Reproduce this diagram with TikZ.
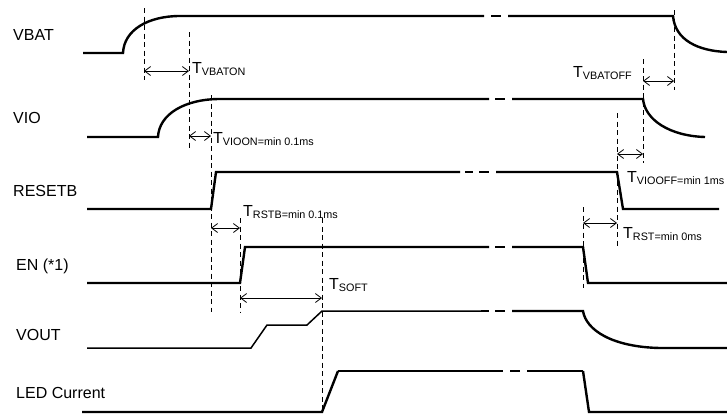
\documentclass[tikz,border=0pt]{standalone}
\usepackage{fontspec}
\setmainfont{Liberation Sans}
\usetikzlibrary{arrows.meta,positioning}

\newcommand{\tlabel}[1]{{\fontsize{16}{16}\selectfont T}\raisebox{-2pt}{\fontsize{10.8}{11}\selectfont #1}}

\begin{document}
\begin{tikzpicture}[x=1pt, y=-1pt,
    wave/.style={line width=2.4pt},
    thinwave/.style={line width=1.5pt},
    guide/.style={line width=0.9pt, dash pattern=on 5pt off 3.5pt},
    dim/.style={{Straight Barb[length=6pt,width=9pt]}-{Straight Barb[length=6pt,width=9pt]}, line width=0.8pt},
    siglabel/.style={anchor=base west, inner sep=0pt, font=\fontsize{16}{16}\selectfont},
    tlab/.style={anchor=base west, inner sep=0pt}]
    \useasboundingbox (0,0) rectangle (727,416);

    % signal names
    \node [siglabel] (vbat) at (13,40) {VBAT};
    \node [siglabel] (vio) at (13,123) {VIO};
    \node [siglabel] (resetb) at (13,196) {RESETB};
    \node [siglabel] (en) at (16,270) {EN (*1)};
    \node [siglabel] (vout) at (16,340) {VOUT};
    \node [siglabel] (led) at (16,398) {LED Current};

    % waveforms
    \draw [wave] (83,53) -- (123,53) .. controls (124,30) and (148,16) .. (180,16) -- (484,16);
    \draw [wave] (491,16) -- (501,16);
    \draw [wave] (508,16) -- (673,16) .. controls (675,40) and (698,51) .. (727,52);

    \draw [wave] (87,137) -- (158,137) .. controls (159,114) and (185,99) .. (220,99) -- (489,99);
    \draw [wave] (495,99) -- (505,99);
    \draw [wave] (512,99) -- (643,99) .. controls (645,120) and (670,136) .. (705,137);

    \draw [wave] (87,209) -- (211,209) -- (216,172) -- (460,172);
    \draw [wave] (465,172) -- (473,172);
    \draw [wave] (479,172) -- (489,172);
    \draw [wave] (496,172) -- (617,172) -- (623,209) -- (719,209);

    \draw [wave] (87,283) -- (240,283) -- (245,247) -- (489,247);
    \draw [wave] (495,247) -- (505,247);
    \draw [wave] (512,247) -- (583,247) -- (588,283) -- (727,283);

    \draw [thinwave] (87,348) -- (251,348) -- (267,325) -- (307,325) -- (322,311) -- (481,311);
    \draw [wave] (481,311) -- (489,311);
    \draw [wave] (495,311) -- (505,311);
    \draw [wave] (512,311) -- (583,311) .. controls (586,330) and (612,347) .. (660,348) -- (727,348);

    \draw [wave] (82,412) -- (322,412) -- (338,371);
    \draw [thinwave] (338,371) -- (495,371);
    \draw [wave] (495,371) -- (503,371);
    \draw [wave] (510,371) -- (520,371);
    \draw [wave] (527,371) -- (537,371);
    \draw [thinwave] (537,371) -- (583,371);
    \draw [wave] (583,371) -- (589,412) -- (727,412);

    % guide lines
    \foreach \x/\top/\bot in {144/8/80, 189/32/150, 211/95/312, 674/10/90, 643/59/163,
                              617/113/248, 583/207/288, 240/218/312, 322/218/413}
        \draw [guide] (\x,\top) -- (\x,\bot);

    % timing arrows
    \coordinate (vbaton-l) at (144,71);
    \coordinate (vbaton-r) at (189,71);
    \coordinate (vioon-l) at (189,136);
    \coordinate (vioon-r) at (211,136);
    \coordinate (vbatoff-l) at (643,81);
    \coordinate (vbatoff-r) at (674,81);
    \coordinate (viooff-l) at (617,154);
    \coordinate (viooff-r) at (643,154);
    \coordinate (rstb-l) at (211,228);
    \coordinate (rstb-r) at (240,228);
    \coordinate (rst-l) at (583,223);
    \coordinate (rst-r) at (617,223);
    \coordinate (soft-l) at (240,298);
    \coordinate (soft-r) at (322,298);
    \draw [dim] (vbaton-l) -- (vbaton-r);
    \draw [dim] (vioon-l) -- (vioon-r);
    \draw [dim] (vbatoff-l) -- (vbatoff-r);
    \draw [dim] (viooff-l) -- (viooff-r);
    \draw [dim] (rstb-l) -- (rstb-r);
    \draw [dim] (rst-l) -- (rst-r);
    \draw [dim] (soft-l) -- (soft-r);

    % timing labels
    \node [tlab] (tvbaton) at (192,73) {\tlabel{VBATON}};
    \node [tlab] (tvioon) at (213,143) {\tlabel{VIOON=min 0.1ms}};
    \node [tlab] (tvbatoff) at (573,77) {\tlabel{VBATOFF}};
    \node [tlab] (tviooff) at (627,182) {\tlabel{VIOOFF=min 1ms}};
    \node [tlab] (trstb) at (243,216) {\tlabel{RSTB=min 0.1ms}};
    \node [tlab] (trst) at (623,238) {\tlabel{RST=min 0ms}};
    \node [tlab] (tsoft) at (329,289) {\tlabel{SOFT}};
\end{tikzpicture}
\end{document}
